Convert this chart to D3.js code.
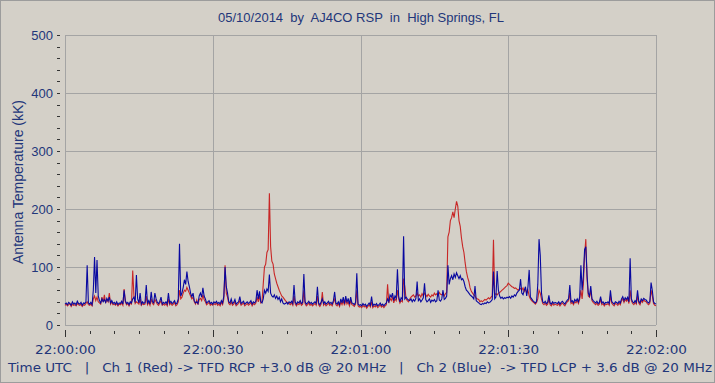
<!DOCTYPE html>
<html><head><meta charset="utf-8">
<script src="https://cdn.jsdelivr.net/npm/d3@7"></script>
<style>
html,body{margin:0;padding:0;background:#d4d0c8;}
svg{display:block;}
text{font-family:"Liberation Sans",Arial,sans-serif;fill:#22367a;white-space:pre;}
</style></head>
<body>
<script>
const titleText = "05/10/2014  by  AJ4CO RSP  in  High Springs, FL";
const yAxisTitle = "Antenna Temperature (kK)";
const footerText = "Time UTC   |   Ch 1 (Red) -> TFD RCP +3.0 dB @ 20 MHz   |   Ch 2 (Blue)  -> TFD LCP + 3.6 dB @ 20 MHz";
const xTickSeconds = [0, 30, 60, 90, 120];
const xTickLabels = ["22:00:00", "22:00:30", "22:01:00", "22:01:30", "22:02:00"];
const yTickValues = [0, 100, 200, 300, 400, 500];
const sampleStep = 0.25; // seconds between samples

// Ch 1 (Red) antenna temperature, kK, one row = 5 s
const ch1Red = [
34,36,33,35,37,32,36,34,35,33,37,35,34,36,32,35,34,37,40,35,
34,36,33,45,50,42,48,40,38,36,48,40,52,38,44,40,55,36,40,35,
36,34,37,33,36,35,38,34,62,40,35,37,33,38,36,94,50,37,40,38,
36,45,34,37,35,36,50,35,39,34,45,37,35,44,40,36,34,38,42,34,
36,34,37,33,45,35,38,34,36,39,33,35,40,60,45,48,55,60,58,65,
60,55,50,45,48,40,36,43,35,44,46,42,52,44,40,35,37,39,34,36,
34,37,35,38,34,36,33,39,35,45,103,55,48,37,35,40,34,36,40,33,
35,37,42,34,36,38,33,35,37,34,36,39,33,37,35,38,48,40,50,38,
40,70,100,105,125,130,227,135,110,105,88,80,72,66,60,55,50,48,45,42,
40,38,37,35,38,34,50,36,33,37,35,39,34,36,60,37,33,35,38,34,
36,33,35,37,34,50,35,32,36,57,34,37,33,35,38,34,36,33,39,45,
35,33,37,32,40,35,42,34,44,36,40,33,42,35,34,32,36,60,33,31,
32,30,34,31,33,29,32,35,31,40,30,33,31,34,30,32,35,31,33,30,
33,35,70,38,46,42,48,38,45,42,60,45,38,42,40,80,66,45,42,40,
45,48,50,52,48,50,55,50,52,48,54,50,55,52,49,53,50,48,52,50,
55,52,54,50,56,53,52,55,50,54,56,152,160,180,185,195,185,200,213,205,
180,170,150,135,125,107,92,82,75,64,58,55,52,50,46,45,44,40,42,40,
42,44,43,45,47,45,48,50,147,52,54,52,55,56,58,60,62,64,66,68,
72,70,68,66,65,63,64,62,60,62,63,60,64,58,62,55,60,50,45,42,
40,38,36,39,45,60,55,45,37,35,38,34,36,45,35,33,37,34,36,35,
34,37,33,36,38,35,33,37,40,42,55,37,39,35,40,38,42,37,44,60,
45,70,120,148,80,50,48,60,42,39,37,35,38,34,36,45,35,37,33,36,
35,37,34,50,38,35,33,37,36,34,38,35,42,45,39,44,41,45,37,60,
42,37,35,39,36,50,38,35,42,39,43,41,40,37,35,38,60,50,37,34,
33];

// Ch 2 (Blue) antenna temperature, kK, one row = 5 s
const ch2Blue = [
36,38,35,39,37,34,40,36,38,35,41,37,36,39,34,38,37,40,103,38,
36,39,35,60,117,55,112,50,42,38,45,40,44,39,46,41,48,38,42,37,
39,36,40,35,38,37,41,36,60,42,37,39,35,40,38,45,48,39,86,45,
38,55,36,40,37,39,69,38,42,36,57,40,38,55,45,39,37,41,48,36,
39,37,40,36,55,38,41,37,39,42,36,38,45,140,50,55,65,78,70,92,
75,66,55,49,55,42,38,40,37,50,55,48,64,50,45,38,40,42,37,39,
36,40,38,41,37,39,36,42,38,50,100,66,55,40,38,45,37,39,44,36,
38,40,49,37,39,41,36,38,40,37,39,42,36,40,38,41,60,45,58,40,
38,45,60,55,62,58,87,55,50,48,52,46,50,44,48,40,45,38,36,37,
39,36,40,38,41,37,69,39,36,40,38,42,37,39,88,40,36,38,41,37,
39,36,38,40,37,66,38,35,39,45,37,40,36,38,41,37,39,36,42,57,
38,36,40,35,45,38,48,37,50,39,46,36,48,38,37,35,39,89,36,34,
35,33,37,34,36,32,35,38,34,49,33,36,34,37,33,35,38,34,36,33,
36,38,45,40,52,48,55,42,50,46,96,50,40,47,44,153,45,48,45,43,
42,45,40,44,41,46,75,42,45,40,43,47,72,44,40,42,45,39,43,41,
44,40,42,60,43,41,45,60,44,46,50,103,70,80,85,78,88,82,90,85,
80,85,78,80,75,66,60,58,55,52,50,48,45,67,42,40,38,36,35,37,
36,38,37,40,38,39,41,44,92,45,48,93,60,50,46,48,45,47,46,48,
47,49,46,50,48,52,50,55,58,60,79,55,52,60,66,50,66,95,48,45,
42,40,38,41,70,148,120,55,40,38,41,37,39,51,38,36,40,37,39,38,
37,40,36,39,41,38,36,40,43,45,69,40,42,38,44,41,45,40,48,103,
60,85,130,135,86,55,50,67,45,42,40,38,41,37,39,49,38,40,36,39,
38,40,37,60,41,38,36,40,39,37,41,38,45,49,42,47,44,48,40,115,
45,40,38,42,39,60,41,38,45,42,46,44,43,40,38,41,73,60,40,37,
36];

const W = 715, H = 383;
const svg = d3.select("body").append("svg").attr("width", W).attr("height", H);

svg.append("rect").attr("x", 0.5).attr("y", 0.5).attr("width", W - 1).attr("height", H - 1)
  .attr("fill", "#d4d0c8").attr("stroke", "#9c9c9c");

const x = d3.scaleLinear().domain([0, 120]).range([65, 656]);
const y = d3.scaleLinear().domain([0, 500]).range([325, 35]);

// grid
const grid = svg.append("g").attr("stroke", "#a4a4a4").attr("stroke-width", 1).attr("shape-rendering", "crispEdges");
grid.selectAll("line.v").data(xTickSeconds).join("line")
  .attr("x1", d => Math.round(x(d)) + 0.5).attr("x2", d => Math.round(x(d)) + 0.5)
  .attr("y1", y(500)).attr("y2", y(0));
grid.selectAll("line.h").data(yTickValues).join("line")
  .attr("y1", d => Math.round(y(d)) + 0.5).attr("y2", d => Math.round(y(d)) + 0.5)
  .attr("x1", x(0)).attr("x2", x(120));

// y axis ticks
const yMinor = d3.range(0, 501, 20);
const yAxisG = svg.append("g").attr("transform", "translate(60,0)")
  .call(d3.axisLeft(y).tickValues(yMinor).tickSize(3).tickPadding(4)
    .tickFormat(d => yTickValues.includes(d) ? String(d) : ""));
yAxisG.select(".domain").remove();
yAxisG.selectAll(".tick line").attr("stroke", "#333").attr("shape-rendering", "crispEdges");
yAxisG.selectAll(".tick text").style("font-size", "13px").attr("fill", "#22367a");

// x axis ticks
const xMinor = d3.range(0, 121, 5);
const xAxisG = svg.append("g").attr("transform", "translate(0,330)")
  .call(d3.axisBottom(x).tickValues(xMinor).tickSize(3).tickFormat(""));
xAxisG.select(".domain").remove();
xAxisG.selectAll(".tick line").attr("stroke", "#333").attr("shape-rendering", "crispEdges")
  .attr("y2", d => xTickSeconds.includes(d) ? 7 : 4)
  .attr("y1", d => xTickSeconds.includes(d) ? 0 : 1);
const xLab = svg.append("g").attr("transform", "translate(0,330)")
  .call(d3.axisBottom(x).tickValues(xTickSeconds).tickSize(0).tickPadding(15)
    .tickFormat((d, i) => xTickLabels[i]));
xLab.select(".domain").remove();
xLab.selectAll(".tick text").style("font-size", "13px").style("font-family", "'DejaVu Sans', sans-serif")
  .attr("fill", "#22367a").attr("textLength", 61).attr("lengthAdjust", "spacingAndGlyphs");

// lines
const line = d3.line().x((d, i) => x(i * sampleStep)).y(d => y(d));
svg.append("path").datum(ch1Red).attr("d", line).attr("fill", "none")
  .attr("stroke", "#c82626").attr("stroke-width", 1.1);
svg.append("path").datum(ch2Blue).attr("d", line).attr("fill", "none")
  .attr("stroke", "#0808a0").attr("stroke-width", 1.1);

// texts
svg.append("text").attr("x", 361).attr("y", 22).attr("text-anchor", "middle")
  .style("font-size", "13px").text(titleText);
svg.append("text").attr("transform", "translate(23,182) rotate(-90)").attr("text-anchor", "middle")
  .style("font-size", "14px").text(yAxisTitle);
svg.append("text").attr("x", 8).attr("y", 372).style("font-size", "13px")
  .style("font-family", "'DejaVu Sans', sans-serif")
  .attr("textLength", 704).attr("lengthAdjust", "spacingAndGlyphs").text(footerText);
</script>
</body></html>
